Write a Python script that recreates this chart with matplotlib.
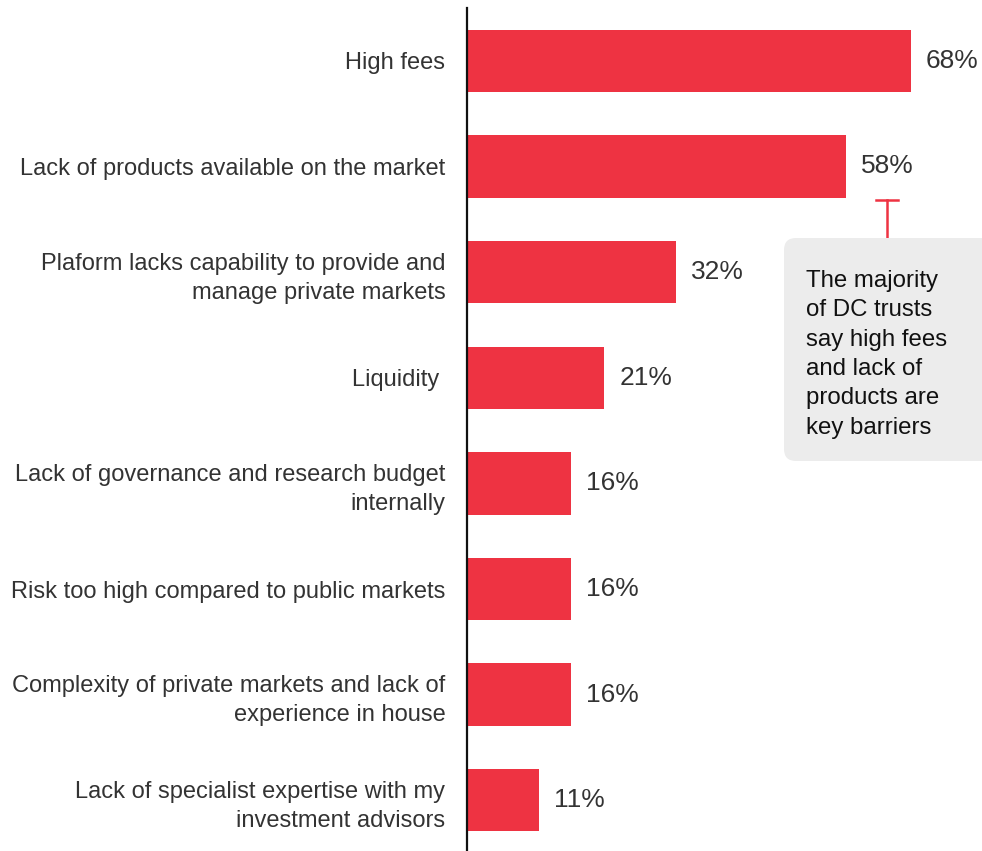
import matplotlib.pyplot as plt
from matplotlib.patches import FancyBboxPatch

plt.rcParams['font.family'] = ['Liberation Sans', 'DejaVu Sans']

# donnees
categories = [
    "High fees",
    "Lack of products available on the market",
    "Plaform lacks capability to provide and\nmanage private markets",
    "Liquidity ",
    "Lack of governance and research budget\ninternally",
    "Risk too high compared to public markets",
    "Complexity of private markets and lack of\nexperience in house",
    "Lack of specialist expertise with my\ninvestment advisors",
]
values = [68, 58, 32, 21, 16, 16, 16, 11]
note = "The majority\nof DC trusts\nsay high fees\nand lack of\nproducts are\nkey barriers"

red = "#EE3342"
dark = "#333333"

fig = plt.figure(figsize=(9.82, 8.51), dpi=100)
ax = fig.add_axes([467/982, 0, 1 - 467/982, 1 - 8/851])

pos = list(range(len(categories)))
ax.barh(pos, values, height=0.59, color=red, zorder=2)
ax.set_xlim(0, (982 - 467) / 6.53)
ax.set_ylim(7.48, -0.5)

ax.set_yticks(pos)
ax.set_yticklabels(categories, fontsize=17, color=dark, linespacing=1.43)
ax.tick_params(axis='y', length=0, pad=15.5)
ax.set_xticks([])
for s in ['top', 'right', 'bottom']:
    ax.spines[s].set_visible(False)
ax.spines['left'].set_linewidth(1.6)
ax.spines['left'].set_color('#111111')

for p, v in zip(pos, values):
    ax.text(v + 2.3, p, f"{v}%", va='center', ha='left', fontsize=19, color=dark)

# encadre
box = FancyBboxPatch((7.84, 3.90), 2.3, 2.23,
                     boxstyle="round,pad=0,rounding_size=0.12",
                     transform=fig.dpi_scale_trans, facecolor="#ECECEC",
                     edgecolor='none', zorder=1)
fig.patches.append(box)
fig.text(8.06, 5.81, note, transform=fig.dpi_scale_trans, fontsize=17.3,
         color="#111111", va='top', ha='left', linespacing=1.43)

# trait rouge
xc = (887 - 467) / 6.53
ax.plot([xc, xc], [1.317, 1.677], color=red, lw=1.8, clip_on=False)
ax.plot([xc - 1.7, xc + 1.7], [1.317, 1.317], color=red, lw=1.8, clip_on=False)

fig.savefig("out.png", dpi=100)
